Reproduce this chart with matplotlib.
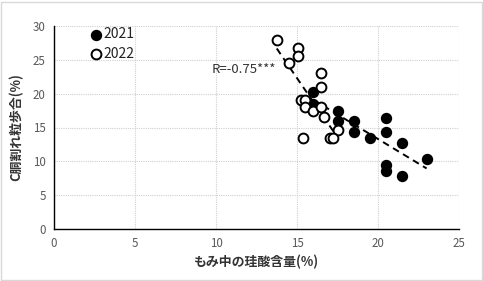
import numpy as np
import matplotlib.pyplot as plt
from matplotlib.patches import Rectangle

plt.rcParams['font.family'] = ['Noto Sans CJK JP', 'DejaVu Sans']

# 2021 (filled)
x_2021 = [16.0, 16.0, 17.5, 17.55, 18.5, 18.5, 19.5, 20.5, 20.5, 20.5, 20.5, 21.5, 21.5, 23.0]
y_2021 = [20.2, 18.4, 17.4, 16.0, 16.0, 14.3, 13.5, 16.4, 14.4, 9.4, 8.5, 12.7, 7.9, 10.4]
# 2022 (open)
x_2022 = [13.75, 15.05, 15.05, 14.5, 16.5, 16.5, 15.25, 15.5, 15.5, 16.0, 16.5, 16.65,
          17.5, 17.05, 17.25, 15.4]
y_2022 = [27.9, 26.7, 25.5, 24.5, 23.0, 20.95, 19.1, 19.1, 18.0, 17.5, 18.0, 16.5,
          14.6, 13.5, 13.5, 13.5]

# linear trendlines (slope, intercept)
trend_2021 = (-1.45, 42.3)
trend_2022 = (-3.5, 74.8)

r_label = "R=-0.75***"
xlabel = "もみ中の珪酸含量(%)"
ylabel = "C胴割れ粒歩合(%)"

fig = plt.figure(figsize=(4.83, 2.81), dpi=100)
ax = fig.add_axes([54/483, 1-229/281, 405/483, 203/281])

for xs, (m, c) in [(x_2021, trend_2021), (x_2022, trend_2022)]:
    xt = np.array([min(xs), max(xs)])
    ax.plot(xt, m * xt + c, color='black', ls=(0, (3.5, 2.5)), lw=1.4, zorder=2)

ax.scatter(x_2021, y_2021, s=50, c='black', edgecolors='black', lw=1.1, zorder=3, label='2021')
ax.scatter(x_2022, y_2022, s=50, facecolors='white', edgecolors='black', lw=1.4, zorder=4, label='2022')

ax.set_xlim(0, 25)
ax.set_ylim(0, 30)
ax.set_xticks(range(0, 26, 5))
ax.set_yticks(range(0, 31, 5))
ax.grid(True, color='#d0d0d0', ls=(0, (1, 1)), lw=0.8)
ax.set_axisbelow(True)
for s in ['top', 'right']:
    ax.spines[s].set_visible(False)
for s in ['left', 'bottom']:
    ax.spines[s].set_color('black')
    ax.spines[s].set_linewidth(1.0)
ax.tick_params(length=0, labelsize=8.3, labelcolor='#595959', pad=6)

ax.set_xlabel(xlabel, fontsize=9.3, color='#333333', labelpad=3, fontweight='bold')
ax.set_ylabel(ylabel, fontsize=9.3, color='#333333', labelpad=7, fontweight='bold')

ax.text(9.7, 23.5, r_label, fontsize=9.5, color='#333333', va='center', ha='left')

leg = ax.legend(loc='upper left', bbox_to_anchor=(0.07, 1.02), frameon=False,
                fontsize=10, handletextpad=-0.1, labelspacing=0.4, borderaxespad=0,
                handlelength=1.2, labelcolor='#222222')

fig.patches.append(Rectangle((0.002, 0.004), 0.996, 0.99, transform=fig.transFigure,
                             fill=False, edgecolor='#d9d9d9', lw=1))

fig.savefig('out.png', dpi=100)
